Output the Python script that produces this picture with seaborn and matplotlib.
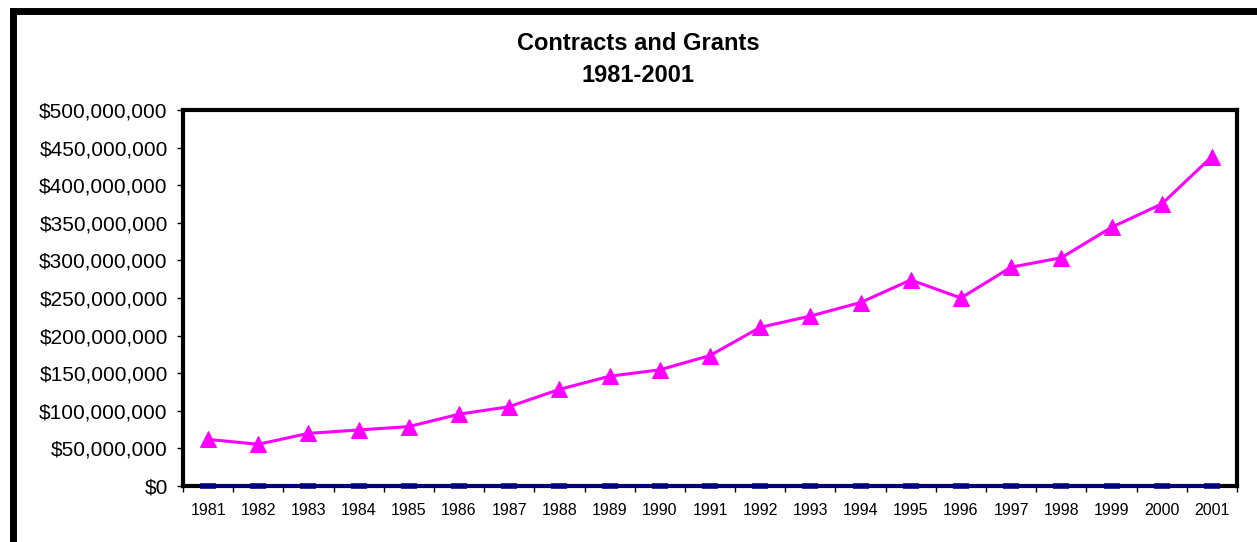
import numpy as np
import pandas as pd
import matplotlib
matplotlib.use('Agg')
import matplotlib.pyplot as plt
import seaborn as sns
from matplotlib.patches import Rectangle
from matplotlib.ticker import FuncFormatter, FixedLocator

# Data (dollars, millions)
years = ['1981', '1982', '1983', '1984', '1985', '1986', '1987', '1988', '1989', '1990', '1991',
         '1992', '1993', '1994', '1995', '1996', '1997', '1998', '1999', '2000', '2001']
contracts_grants_m = [62, 55.5, 70, 74.5, 79, 95.5, 105.5, 128.5, 146, 154.5, 173.5,
                      211, 226, 244, 274, 250, 291, 303.5, 344, 375, 438]
zero_series = [0] * len(years)
title_lines = ['Contracts and Grants', '1981-2001']

sns.set_theme(style='white')
plt.rcParams['font.family'] = ['Liberation Sans', 'DejaVu Sans']
plt.rcParams['text.color'] = 'black'
plt.rcParams['xtick.color'] = 'black'
plt.rcParams['ytick.color'] = 'black'

df = pd.DataFrame({'year': years,
                   'amount': np.array(contracts_grants_m) * 1e6,
                   'zero': zero_series})

fig = plt.figure(figsize=(12.57, 5.42), dpi=100)
fig.patch.set_facecolor('white')
ax = fig.add_axes([183 / 1257, 56 / 542, (1237 - 183) / 1257, (486 - 110) / 542])

# outer frame (cut off at right and bottom in the original)
fig.patches.append(Rectangle((13.5 / 1257, -0.5), 2, 1.5 - 11 / 542, transform=fig.transFigure,
                             fill=False, edgecolor='black', linewidth=5))

sns.lineplot(data=df, x='year', y='zero', ax=ax, color='#000080', linewidth=2.6,
             marker='_', markersize=11.5, markeredgewidth=4, markeredgecolor='#000080',
             zorder=5, clip_on=False)
sns.lineplot(data=df, x='year', y='amount', ax=ax, color='#FF00FF', linewidth=2.2,
             marker='^', markersize=11, markeredgecolor='#FF00FF', zorder=6)

ax.set_xlim(-0.5, len(years) - 0.5)
ax.set_ylim(0, 500e6)
ax.set_yticks(np.arange(0, 500e6 + 1, 50e6))
ax.yaxis.set_major_formatter(FuncFormatter(lambda v, p: f'${v:,.0f}'))

# boundary ticks as major (no labels), year labels on minor ticks
ax.xaxis.set_major_locator(FixedLocator(np.arange(-0.5, len(years), 1.0)))
ax.xaxis.set_minor_locator(FixedLocator(np.arange(len(years))))
ax.set_xticklabels([], minor=False)
ax.set_xticklabels(years, minor=True)
ax.tick_params(axis='x', which='major', direction='out', length=4, width=1, color='black', bottom=True)
ax.tick_params(axis='x', which='minor', length=0, labelsize=11.5, pad=12.5, bottom=True,
               labelcolor='black')
ax.tick_params(axis='y', direction='out', length=4, width=1, color='black', labelsize=15,
               pad=7, left=True, labelcolor='black')

for s in ax.spines.values():
    s.set_visible(True)
    s.set_color('black')
    s.set_linewidth(3)

ax.set_xlabel('')
ax.set_ylabel('')
ax.grid(False)
if ax.get_legend() is not None:
    ax.get_legend().remove()

fig.text(638 / 1257, 1 - 43 / 542, title_lines[0], ha='center', va='center',
         fontsize=17, fontweight='bold', color='black')
fig.text(638 / 1257, 1 - 76 / 542, title_lines[1], ha='center', va='center',
         fontsize=17, fontweight='bold', color='black')

fig.savefig('out.png', dpi=100)
